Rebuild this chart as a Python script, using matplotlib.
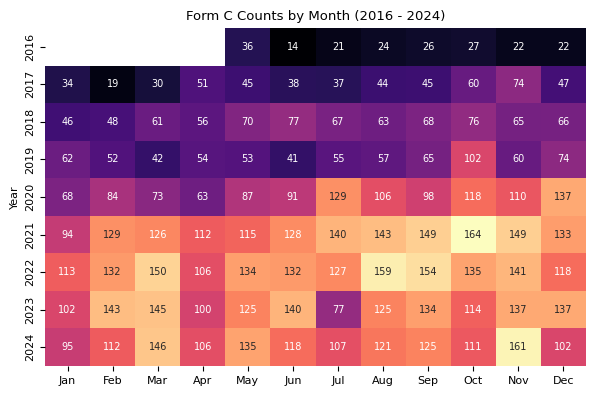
import numpy as np
import pandas as pd
import matplotlib
matplotlib.use("Agg")
import matplotlib.pyplot as plt
import seaborn as sns

years = [2016, 2017, 2018, 2019, 2020, 2021, 2022, 2023, 2024]
months = ["Jan", "Feb", "Mar", "Apr", "May", "Jun", "Jul", "Aug", "Sep", "Oct", "Nov", "Dec"]

nan = np.nan
y2016 = [nan, nan, nan, nan, 36, 14, 21, 24, 26, 27, 22, 22]
y2017 = [34, 19, 30, 51, 45, 38, 37, 44, 45, 60, 74, 47]
y2018 = [46, 48, 61, 56, 70, 77, 67, 63, 68, 76, 65, 66]
y2019 = [62, 52, 42, 54, 53, 41, 55, 57, 65, 102, 60, 74]
y2020 = [68, 84, 73, 63, 87, 91, 129, 106, 98, 118, 110, 137]
y2021 = [94, 129, 126, 112, 115, 128, 140, 143, 149, 164, 149, 133]
y2022 = [113, 132, 150, 106, 134, 132, 127, 159, 154, 135, 141, 118]
y2023 = [102, 143, 145, 100, 125, 140, 77, 125, 134, 114, 137, 137]
y2024 = [95, 112, 146, 106, 135, 118, 107, 121, 125, 111, 161, 102]

df = pd.DataFrame([y2016, y2017, y2018, y2019, y2020, y2021, y2022, y2023, y2024],
                  index=years, columns=months)

fig, ax = plt.subplots(figsize=(5.95, 3.96), dpi=100)
sns.heatmap(df, annot=True, fmt=".0f", cmap="magma", cbar=False, ax=ax,
            annot_kws={"fontsize": 7})
ax.set_title("Form C Counts by Month (2016 - 2024)", fontsize=9.5)
ax.set_ylabel("Year", fontsize=8)
ax.set_xlabel("")
ax.tick_params(labelsize=8)
plt.setp(ax.get_yticklabels(), rotation=90, va="center")
fig.subplots_adjust(left=45/595, right=586/595, top=1-28/396, bottom=1-366/396)
fig.savefig("out.png", dpi=100)
